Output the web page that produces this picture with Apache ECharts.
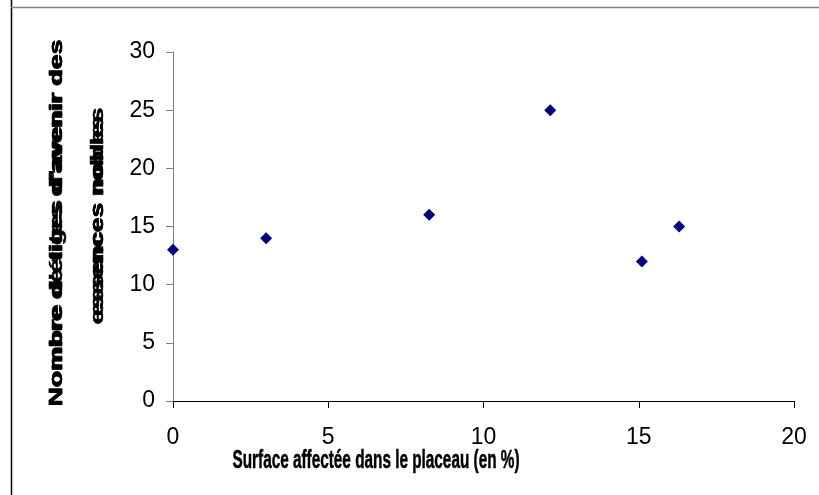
<!DOCTYPE html>
<html>
<head>
<meta charset="utf-8">
<script src="https://cdn.jsdelivr.net/npm/echarts@6/dist/echarts.min.js"></script>
<style>
html,body{margin:0;padding:0;background:#fff;}
#c{width:819px;height:495px;}
</style>
</head>
<body>
<div id="c"></div>
<script>
var xValues = [0, 3, 8.25, 12.15, 15.1, 16.3];
var yValues = [13, 14, 16, 25, 12, 15];
var xTitle = "Surface affectée dans le placeau (en %)";
var yTitleA = ["Nombre de tiges d'avenir des", "essences nobles"];
var yTitleB = ["Nombre d'élites d'avenir des", "essences nobles"];

var points = xValues.map(function (x, i) { return [x, yValues[i]]; });

function measure(text, font) {
  var cv = document.createElement('canvas').getContext('2d');
  cv.font = font;
  return cv.measureText(text).width;
}
var titleFont = 'bold 18px "Liberation Sans", Arial, sans-serif';
var xTitleFont = 'bold 25px "Liberation Sans", Arial, sans-serif';
function fitText(text, font, cx, cy, targetLen, rot) {
  var w = measure(text, font);
  var s = targetLen / w;
  return {
    type: 'text',
    x: cx, y: cy,
    rotation: rot,
    scaleX: s, scaleY: 1,
    style: {
      text: text,
      font: font,
      fill: '#000',
      stroke: '#000',
      lineWidth: 0.5,
      align: 'center',
      verticalAlign: 'middle'
    },
    z: 10
  };
}

var chart = echarts.init(document.getElementById('c'), null, {renderer: 'canvas'});
chart.setOption({
  animation: false,
  backgroundColor: '#fff',
  grid: {left: 173, right: 25, top: 52, bottom: 94},
  xAxis: {
    type: 'value', min: 0, max: 20, interval: 5,
    axisLine: {onZero: false, lineStyle: {color: '#000', width: 1}},
    axisTick: {show: true, inside: false, length: 7, lineStyle: {color: '#000'}},
    axisLabel: {fontFamily: '"Liberation Sans", Arial', fontSize: 23, color: '#000', margin: 25},
    splitLine: {show: false}
  },
  yAxis: {
    type: 'value', min: 0, max: 30, interval: 5,
    axisLine: {show: true, lineStyle: {color: '#808080', width: 1}},
    axisTick: {show: true, length: 7, lineStyle: {color: '#808080'}},
    axisLabel: {fontFamily: '"Liberation Sans", Arial', fontSize: 23, color: '#000', margin: 18},
    splitLine: {show: false}
  },
  series: [{
    type: 'scatter',
    data: points,
    symbol: 'diamond',
    symbolSize: 12,
    itemStyle: {color: '#000080', opacity: 1}
  }],
  graphic: [
    {type: 'line', shape: {x1: 11.5, y1: 0, x2: 11.5, y2: 495}, style: {stroke: '#000', lineWidth: 1.5}},
    {type: 'line', shape: {x1: 11, y1: 7.5, x2: 819, y2: 7.5}, style: {stroke: '#808080', lineWidth: 1.5}},
    fitText(yTitleA[0], titleFont, 57, 223, 367, Math.PI / 2),
    fitText(yTitleB[0], titleFont, 57, 223, 367, Math.PI / 2),
    fitText(yTitleA[1], titleFont, 98, 216, 217, Math.PI / 2),
    fitText(yTitleB[1], titleFont, 98, 216, 200, Math.PI / 2),
    fitText(xTitle, xTitleFont, 376, 461, 287, 0)
  ]
});
</script>
</body>
</html>
